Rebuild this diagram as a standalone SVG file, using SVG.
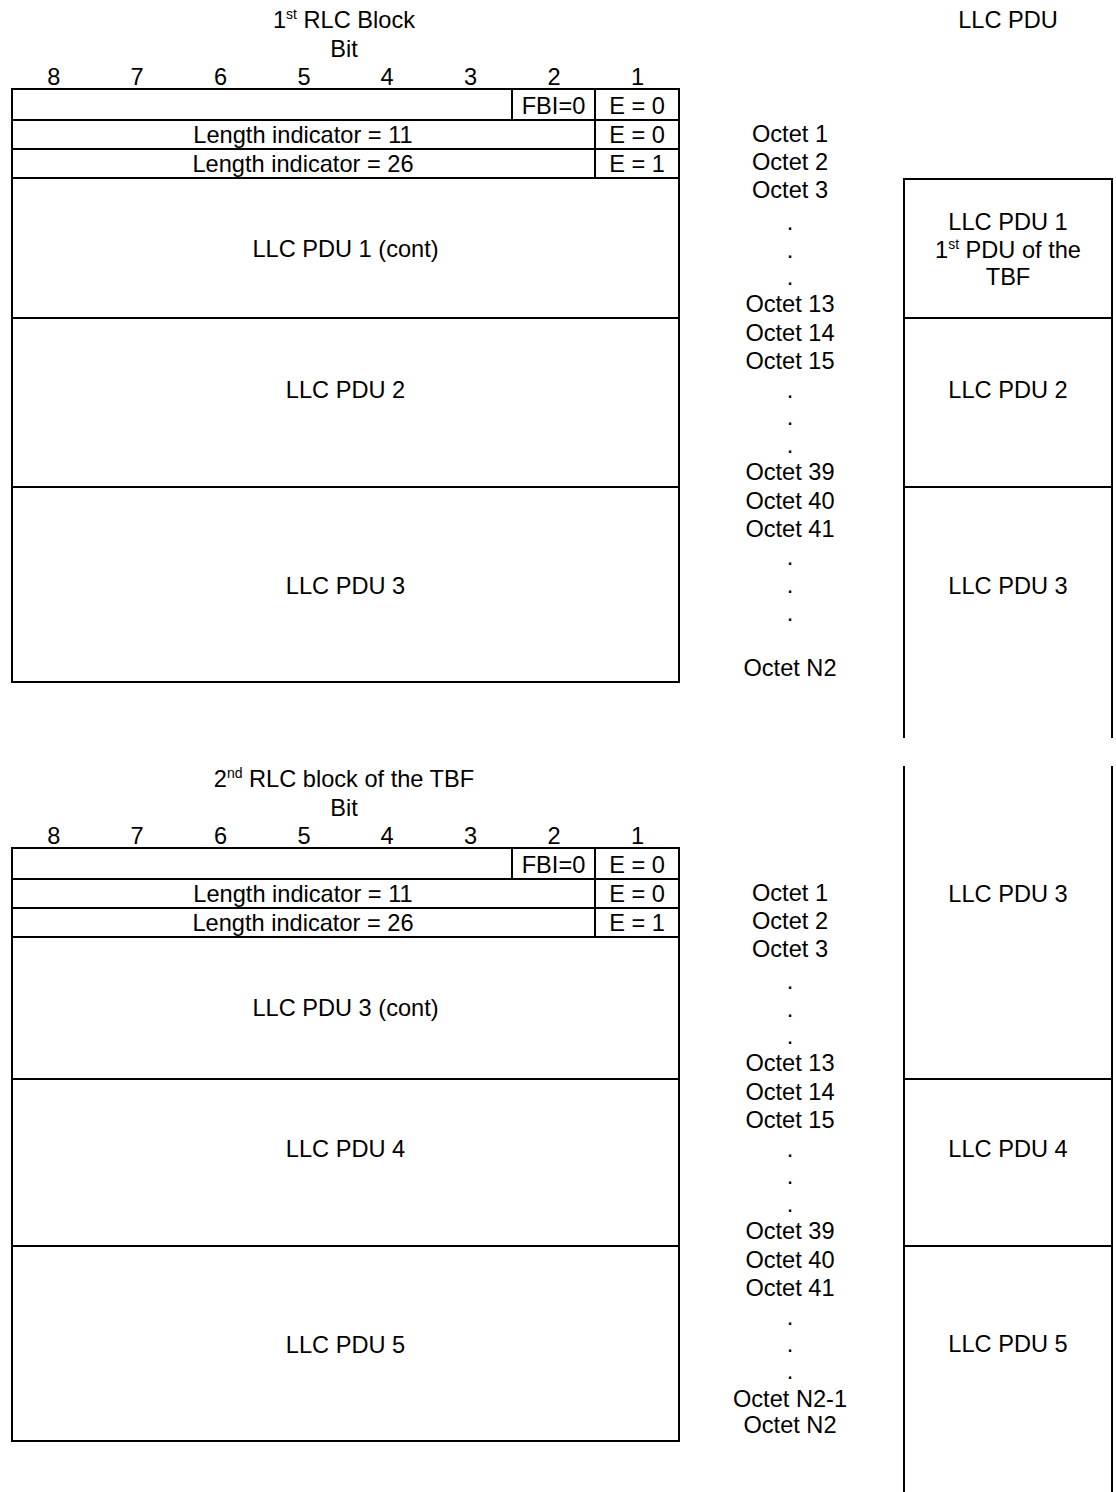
<svg xmlns="http://www.w3.org/2000/svg" width="1116" height="1492" viewBox="0 0 1116 1492">
<style>
text{font-family:"Liberation Sans",Arial,sans-serif;font-size:23.6px;fill:#000;text-anchor:middle}
.b{fill:none;stroke:#000;stroke-width:2}
.l{stroke:#000;stroke-width:2;fill:none}
.sup{font-size:14px}
</style>
<rect width="1116" height="1492" fill="#fff"/>

<!-- ===== First RLC block ===== -->
<g id="title1">
<text x="344" y="28">1<tspan class="sup" dy="-9">st</tspan><tspan dy="9"> RLC Block</tspan></text>
<text x="344" y="57">Bit</text>
<text x="1008" y="28">LLC PDU</text>
</g>
<g id="bits1">
<text x="53.7" y="85">8</text><text x="137" y="85">7</text><text x="220.5" y="85">6</text><text x="304" y="85">5</text>
<text x="387" y="85">4</text><text x="470.6" y="85">3</text><text x="554" y="85">2</text><text x="637.5" y="85">1</text>
</g>
<g id="hdr1-row1">
<rect class="b" x="12" y="89" width="667" height="31"/>
<line class="l" x1="512" y1="89" x2="512" y2="120"/>
<line class="l" x1="595" y1="89" x2="595" y2="120"/>
<text x="553.5" y="114">FBI=0</text>
<text x="637" y="114">E = 0</text>
</g>
<g id="hdr1-row2">
<rect class="b" x="12" y="120" width="667" height="29"/>
<line class="l" x1="595" y1="120" x2="595" y2="149"/>
<text x="303" y="143">Length indicator = 11</text>
<text x="637" y="143">E = 0</text>
</g>
<g id="hdr1-row3">
<rect class="b" x="12" y="149" width="667" height="29"/>
<line class="l" x1="595" y1="149" x2="595" y2="178"/>
<text x="303" y="172">Length indicator = 26</text>
<text x="637" y="172">E = 1</text>
</g>
<g id="blk1-pdu1">
<rect class="b" x="12" y="178" width="667" height="140"/>
<text x="345.5" y="257">LLC PDU 1 (cont)</text>
</g>
<g id="blk1-pdu2">
<rect class="b" x="12" y="318" width="667" height="169"/>
<text x="345.5" y="398">LLC PDU 2</text>
</g>
<g id="blk1-pdu3">
<rect class="b" x="12" y="487" width="667" height="195"/>
<text x="345.5" y="594">LLC PDU 3</text>
</g>
<g id="octets1">
<text x="790" y="142">Octet 1</text>
<text x="790" y="170">Octet 2</text>
<text x="790" y="198">Octet 3</text>
<text x="790" y="230">.</text>
<text x="790" y="258">.</text>
<text x="790" y="285">.</text>
<text x="790" y="312">Octet 13</text>
<text x="790" y="341">Octet 14</text>
<text x="790" y="369">Octet 15</text>
<text x="790" y="398">.</text>
<text x="790" y="425">.</text>
<text x="790" y="453">.</text>
<text x="790" y="480">Octet 39</text>
<text x="790" y="509">Octet 40</text>
<text x="790" y="537">Octet 41</text>
<text x="790" y="565">.</text>
<text x="790" y="593">.</text>
<text x="790" y="621">.</text>
<text x="790" y="676">Octet N2</text>
</g>
<g id="llc1-pdu1">
<path class="l" d="M904,738 V179 H1112 V738"/>
<text x="1008" y="230">LLC PDU 1</text>
<text x="1008" y="258">1<tspan class="sup" dy="-9">st</tspan><tspan dy="9"> PDU of the</tspan></text>
<text x="1008" y="285">TBF</text>
</g>
<g id="llc1-pdu2">
<line class="l" x1="904" y1="318" x2="1112" y2="318"/>
<text x="1008" y="398">LLC PDU 2</text>
</g>
<g id="llc1-pdu3">
<line class="l" x1="904" y1="487" x2="1112" y2="487"/>
<text x="1008" y="594">LLC PDU 3</text>
</g>

<!-- ===== Second RLC block ===== -->
<g id="title2">
<text x="344" y="787">2<tspan class="sup" dy="-9">nd</tspan><tspan dy="9"> RLC block of the TBF</tspan></text>
<text x="344" y="816">Bit</text>
</g>
<g id="bits2">
<text x="53.7" y="844">8</text><text x="137" y="844">7</text><text x="220.5" y="844">6</text><text x="304" y="844">5</text>
<text x="387" y="844">4</text><text x="470.6" y="844">3</text><text x="554" y="844">2</text><text x="637.5" y="844">1</text>
</g>
<g id="hdr2-row1">
<rect class="b" x="12" y="848" width="667" height="31"/>
<line class="l" x1="512" y1="848" x2="512" y2="879"/>
<line class="l" x1="595" y1="848" x2="595" y2="879"/>
<text x="553.5" y="873">FBI=0</text>
<text x="637" y="873">E = 0</text>
</g>
<g id="hdr2-row2">
<rect class="b" x="12" y="879" width="667" height="29"/>
<line class="l" x1="595" y1="879" x2="595" y2="908"/>
<text x="303" y="902">Length indicator = 11</text>
<text x="637" y="902">E = 0</text>
</g>
<g id="hdr2-row3">
<rect class="b" x="12" y="908" width="667" height="29"/>
<line class="l" x1="595" y1="908" x2="595" y2="937"/>
<text x="303" y="931">Length indicator = 26</text>
<text x="637" y="931">E = 1</text>
</g>
<g id="blk2-pdu3">
<rect class="b" x="12" y="937" width="667" height="142"/>
<text x="345.5" y="1016">LLC PDU 3 (cont)</text>
</g>
<g id="blk2-pdu4">
<rect class="b" x="12" y="1079" width="667" height="167"/>
<text x="345.5" y="1157">LLC PDU 4</text>
</g>
<g id="blk2-pdu5">
<rect class="b" x="12" y="1246" width="667" height="195"/>
<text x="345.5" y="1353">LLC PDU 5</text>
</g>
<g id="octets2">
<text x="790" y="901">Octet 1</text>
<text x="790" y="929">Octet 2</text>
<text x="790" y="957">Octet 3</text>
<text x="790" y="989">.</text>
<text x="790" y="1017">.</text>
<text x="790" y="1044">.</text>
<text x="790" y="1071">Octet 13</text>
<text x="790" y="1100">Octet 14</text>
<text x="790" y="1128">Octet 15</text>
<text x="790" y="1157">.</text>
<text x="790" y="1184">.</text>
<text x="790" y="1212">.</text>
<text x="790" y="1239">Octet 39</text>
<text x="790" y="1268">Octet 40</text>
<text x="790" y="1296">Octet 41</text>
<text x="790" y="1325">.</text>
<text x="790" y="1352">.</text>
<text x="790" y="1379">.</text>
<text x="790" y="1407">Octet N2-1</text>
<text x="790" y="1433">Octet N2</text>
</g>
<g id="llc2-pdu3">
<line class="l" x1="904" y1="766" x2="904" y2="1492"/>
<line class="l" x1="1112" y1="766" x2="1112" y2="1492"/>
<text x="1008" y="902">LLC PDU 3</text>
</g>
<g id="llc2-pdu4">
<line class="l" x1="904" y1="1079" x2="1112" y2="1079"/>
<text x="1008" y="1157">LLC PDU 4</text>
</g>
<g id="llc2-pdu5">
<line class="l" x1="904" y1="1246" x2="1112" y2="1246"/>
<text x="1008" y="1352">LLC PDU 5</text>
</g>
<g id="connectors"/>
</svg>
